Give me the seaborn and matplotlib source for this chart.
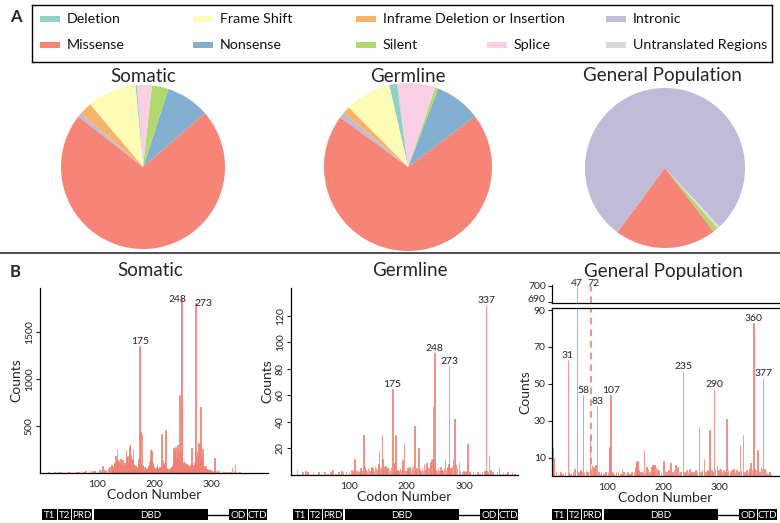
import matplotlib.pyplot as plt
import pandas as pd
import seaborn as sns
from matplotlib.lines import Line2D
from matplotlib.patches import Rectangle

W, H = 780, 523

# mutation categories (legend order) and their Set3 colour index
MUTATION_TYPES = [
    "Deletion", "Frame Shift", "Inframe Deletion or Insertion", "Intronic",
    "Missense", "Nonsense", "Silent", "Splice", "Untranslated Regions",
]
SET3_INDEX = [0, 1, 5, 2, 3, 4, 6, 7, 8]

# pie slices, listed in drawing order (counter-clockwise from the start angle)
PIE_ORDER = [
    "Nonsense", "Silent", "Splice", "Untranslated Regions", "Deletion",
    "Frame Shift", "Inframe Deletion or Insertion", "Intronic", "Missense",
]
SOMATIC_PCT = [8.6, 3.3, 2.9, 0.0, 0.3, 9.7, 2.5, 0.8, 72.0]
GERMLINE_PCT = [8.9, 0.6, 7.1, 0.3, 1.5, 8.9, 1.4, 1.1, 70.6]
GENPOP_PCT = [0.0, 1.1, 0.2, 0.3, 0.0, 0.0, 0.0, 78.0, 20.5]

# codon counts, somatic
SOMATIC_CODONS = [
    10, 15, 20, 25, 28, 32, 36, 40, 44, 48, 52, 56, 60, 64, 68, 72, 76, 80, 84, 88,
    92, 96, 100, 104, 107, 110, 113, 116, 120, 122, 125, 126, 127, 128, 130, 131, 132, 134, 135, 136,
    137, 138, 139, 141, 143, 144, 145, 146, 147, 149, 151, 152, 154, 155, 156, 157, 158, 159, 160, 161,
    162, 163, 164, 165, 167, 168, 170, 171, 172, 173, 174, 175, 176, 177, 178, 179, 180, 181, 183, 184,
    185, 187, 188, 190, 191, 192, 193, 194, 195, 196, 197, 198, 199, 200, 202, 203, 204, 205, 207, 209,
    210, 211, 213, 214, 215, 216, 217, 218, 219, 220, 221, 223, 224, 226, 227, 229, 230, 232, 234, 235,
    236, 237, 238, 239, 240, 241, 242, 243, 244, 245, 246, 247, 248, 249, 250, 251, 252, 253, 254, 255,
    256, 257, 258, 259, 260, 261, 262, 263, 264, 265, 266, 267, 268, 270, 271, 272, 273, 274, 275, 276,
    277, 278, 279, 280, 281, 282, 283, 284, 285, 286, 287, 288, 289, 290, 291, 293, 295, 296, 298, 300,
    302, 304, 306, 308, 310, 313, 316, 319, 322, 325, 328, 331, 334, 337, 340, 342, 344, 347, 350, 355,
    360, 365, 370, 375, 380, 385,
    133, 140, 142, 148, 150, 153, 166, 169, 182, 186, 189, 201, 206, 208, 212, 222, 225, 228, 231, 233,
    269, 292, 294, 297, 299,
]
SOMATIC_COUNTS = [
    4, 6, 5, 8, 6, 10, 7, 9, 8, 12, 10, 14, 11, 12, 15, 18, 14, 16, 12, 20,
    18, 22, 25, 30, 28, 70, 35, 30, 45, 60, 80, 90, 60, 55, 100, 110, 180, 120, 260, 140,
    90, 130, 110, 150, 90, 100, 140, 80, 60, 90, 244, 160, 180, 110, 200, 290, 314, 190, 120, 150,
    140, 260, 90, 100, 80, 70, 60, 50, 80, 150, 120, 1350, 440, 100, 60, 415, 70, 90, 60, 40,
    30, 40, 30, 70, 40, 120, 250, 150, 260, 230, 110, 100, 60, 50, 50, 40, 60, 100, 40, 40,
    60, 50, 420, 90, 70, 140, 90, 110, 70, 457, 40, 40, 30, 40, 30, 50, 60, 80, 270, 150,
    240, 200, 280, 160, 150, 300, 250, 140, 200, 830, 220, 150, 1857, 725, 120, 100, 90, 60, 120, 100,
    60, 80, 110, 90, 60, 50, 70, 100, 60, 80, 270, 110, 60, 120, 90, 200, 1815, 150, 220, 180,
    110, 320, 130, 300, 220, 700, 160, 100, 260, 200, 70, 60, 50, 70, 40, 30, 40, 30, 40, 30,
    25, 20, 155, 20, 15, 18, 12, 10, 15, 12, 10, 12, 10, 60, 20, 100, 15, 8, 6, 5,
    5, 4, 4, 3, 3, 3,
    70, 80, 60, 110, 70, 120, 60, 50, 40, 30, 50, 40, 50, 30, 70, 50, 40, 40, 60, 110,
    90, 40, 30, 25, 30,
]

# codon counts, germline
GERMLINE_CODONS = [
    5, 10, 14, 20, 25, 28, 33, 38, 43, 47, 52, 58, 63, 68, 72, 77, 82, 87, 90, 95,
    100, 104, 108, 110, 112, 115, 118, 120, 122, 125, 127, 129, 131, 133, 135, 137, 139, 141, 143, 145,
    147, 149, 151, 152, 154, 156, 157, 158, 159, 161, 163, 165, 167, 169, 171, 173, 175, 176, 178, 179,
    180, 182, 184, 186, 188, 190, 192, 193, 195, 197, 199, 201, 203, 205, 207, 209, 211, 213, 215, 217,
    220, 222, 224, 226, 228, 230, 232, 234, 236, 238, 240, 241, 242, 244, 245, 246, 248, 249, 250, 252,
    254, 256, 258, 260, 262, 264, 266, 268, 270, 272, 273, 275, 276, 278, 280, 282, 283, 285, 287, 290,
    292, 295, 298, 300, 303, 305, 308, 311, 314, 318, 322, 326, 330, 334, 336, 337, 338, 340, 342, 345,
    348, 352, 356, 359, 362, 366, 370, 374, 378, 382, 386, 390,
]
GERMLINE_COUNTS = [
    1, 4, 1, 2, 3, 2, 1, 2, 1, 2, 1, 2, 1, 2, 4, 1, 2, 3, 2, 3,
    2, 4, 3, 12, 4, 3, 2, 5, 3, 30, 6, 4, 3, 5, 4, 3, 6, 5, 3, 7,
    5, 4, 8, 19, 5, 6, 30, 12, 4, 6, 7, 4, 5, 3, 4, 6, 65, 8, 5, 9,
    30, 3, 4, 3, 5, 4, 6, 11, 24, 4, 3, 5, 4, 6, 3, 5, 7, 37, 4, 5,
    20, 4, 3, 5, 3, 8, 4, 9, 5, 6, 7, 10, 12, 12, 52, 8, 92, 10, 4, 3,
    5, 3, 6, 4, 3, 5, 11, 4, 6, 8, 82, 5, 4, 7, 12, 42, 6, 8, 5, 10,
    3, 2, 3, 2, 3, 23, 2, 1, 2, 1, 2, 1, 2, 3, 3, 128, 3, 2, 15, 4,
    2, 1, 2, 6, 1, 2, 1, 2, 1, 2, 1, 1,
]

# codon counts, general population (codon 72 drawn as a dashed line, off scale)
GENPOP_CODONS = [
    2, 5, 6, 10, 14, 18, 22, 26, 31, 33, 36, 40, 43, 47, 50, 53, 55, 58, 60, 63,
    66, 70, 74, 76, 78, 80, 83, 85, 88, 90, 94, 98, 102, 105, 107, 110, 113, 116, 120, 124,
    127, 130, 134, 137, 140, 144, 148, 151, 152, 153, 154, 156, 158, 161, 164, 166, 168, 170, 173, 176,
    179, 181, 183, 185, 187, 189, 192, 196, 200, 203, 206, 209, 213, 216, 219, 222, 225, 228, 231, 235,
    238, 241, 244, 247, 250, 254, 257, 260, 263, 266, 269, 272, 275, 278, 280, 282, 285, 287, 290, 292,
    295, 298, 301, 304, 307, 310, 312, 315, 318, 321, 324, 327, 330, 333, 336, 338, 341, 344, 347, 350,
    353, 355, 357, 360, 362, 364, 367, 370, 373, 375, 377, 379, 382, 385, 388, 391,
]
GENPOP_COUNTS = [
    2, 16, 10, 2, 1, 2, 1, 2, 63, 2, 1, 2, 4, 700, 2, 3, 2, 44, 2, 3,
    2, 21, 6, 5, 4, 6, 38, 2, 1, 2, 1, 2, 2, 16, 44, 2, 1, 2, 2, 1,
    4, 2, 1, 2, 1, 2, 2, 5, 8, 7, 8, 3, 2, 2, 2, 14, 2, 5, 4, 2,
    5, 6, 6, 6, 5, 4, 3, 2, 8, 2, 2, 3, 7, 2, 3, 6, 5, 2, 2, 57,
    2, 3, 2, 4, 2, 2, 3, 2, 27, 2, 3, 9, 2, 3, 2, 25, 3, 2, 47, 4,
    6, 3, 4, 2, 3, 2, 31, 3, 2, 3, 4, 2, 3, 2, 17, 3, 22, 2, 3, 2,
    4, 7, 3, 83, 4, 3, 14, 2, 5, 4, 53, 4, 2, 1, 2, 1,
]
GENPOP_DASHED_CODON = 72
GENPOP_DASHED_TOP = 700

SOMATIC_LABELS = [175, 248, 273]
GERMLINE_LABELS = [175, 248, 273, 337]
GENPOP_LABELS = [31, 58, 83, 107, 235, 290, 360, 377]
GENPOP_TOP_LABELS = [47]

# TP53 domain track (codon ranges)
DOMAIN_NAMES = ["T1", "T2", "PRD", "DBD", "OD", "CTD"]
DOMAIN_START = [3, 32, 56, 94, 332, 365]
DOMAIN_END = [30, 54, 91, 295, 363, 399]

BAR_COLOR = "#ef7f72"


def px_rect(left, top, right, bottom):
    return [left / W, 1 - bottom / H, (right - left) / W, (bottom - top) / H]


def draw_pie(fig, ax_box, values, start, colors):
    ax = fig.add_axes(px_rect(*ax_box))
    ax.pie(values, colors=colors, startangle=start, counterclock=True,
           wedgeprops={"linewidth": 0})
    ax.set_xlim(-1.0, 1.0)
    ax.set_ylim(-1.0, 1.0)


def draw_counts(ax, codons, counts, xlim, ylim):
    df = pd.DataFrame({"codon": codons, "count": counts})
    sns.histplot(data=df, x="codon", weights="count", binwidth=1, binrange=(0.5, 409.5),
                 color=BAR_COLOR, alpha=0.85, edgecolor=BAR_COLOR, linewidth=0.55, ax=ax)
    ax.set_xlim(*xlim)
    ax.set_ylim(*ylim)
    ax.set_xlabel("")
    ax.set_ylabel("")
    sns.despine(ax=ax)
    ax.tick_params(axis="y", length=3, width=0.8, pad=1.5, labelsize=7.5)
    ax.tick_params(axis="x", length=0, pad=5, labelsize=7.5)
    for side in ("left", "bottom"):
        ax.spines[side].set_color("black")
        ax.spines[side].set_linewidth(0.9)


def label_peaks(ax, codons, counts, label_codons, offsets=None):
    lookup = dict(zip(codons, counts))
    for i, c in enumerate(label_codons):
        dx, dy = (0, 0) if offsets is None else offsets[i]
        ax.annotate(str(c), (c, lookup[c]), xytext=(dx, dy), textcoords="offset pixels",
                    ha="center", va="bottom", fontsize=7.5, color="#222222")


def draw_domains(fig, left, right):
    ax = fig.add_axes(px_rect(left, 509, right, 520))
    ax.set_xlim(0, 400)
    ax.set_ylim(0, 1)
    ax.axis("off")
    ax.plot([DOMAIN_END[3], DOMAIN_START[4]], [0.5, 0.5], color="black", lw=1)
    for name, s, e in zip(DOMAIN_NAMES, DOMAIN_START, DOMAIN_END):
        ax.add_patch(Rectangle((s, 0), e - s, 1, facecolor="black", edgecolor="none"))
        ax.text((s + e) / 2, 0.45, name, color="white", ha="center", va="center", fontsize=7)


sns.set_theme(style="ticks")
plt.rcParams["font.family"] = ["Lato", "DejaVu Sans"]

palette = sns.color_palette("Set3", 12, desat=0.92)
type_colors = {t: palette[i] for t, i in zip(MUTATION_TYPES, SET3_INDEX)}
pie_colors = [type_colors[t] for t in PIE_ORDER]

fig = plt.figure(figsize=(W / 100, H / 100), dpi=100)

# ---- panel A legend box
lax = fig.add_axes(px_rect(32, 5, 772, 62))
lax.set_xlim(32, 772)
lax.set_ylim(62, 5)
lax.set_xticks([])
lax.set_yticks([])
for sp in lax.spines.values():
    sp.set_color("black")
    sp.set_linewidth(1.0)
legend_pos = {
    "Deletion": (40, 19), "Frame Shift": (193, 19),
    "Inframe Deletion or Insertion": (356, 19), "Intronic": (606, 19),
    "Missense": (40, 45), "Nonsense": (193, 45), "Silent": (356, 45),
    "Splice": (487, 45), "Untranslated Regions": (606, 45),
}
for t in MUTATION_TYPES:
    x, y = legend_pos[t]
    lax.add_patch(Rectangle((x, y - 3), 20, 6, facecolor=type_colors[t], edgecolor="none"))
    lax.text(x + 27, y, t, va="center", ha="left", fontsize=10.3, color="#111111")

fig.text(10 / W, 1 - 17 / H, "A", fontsize=12, fontweight="bold", ha="left", va="center")

# ---- pies
draw_pie(fig, (61, 85, 225, 249), SOMATIC_PCT, 41, pie_colors)
draw_pie(fig, (324, 83, 492, 251), GERMLINE_PCT, 37, pie_colors)
draw_pie(fig, (585, 88, 745, 248), GENPOP_PCT, 307.3, pie_colors)
for x, title in [(143, "Somatic"), (408, "Germline"), (662, "General Population")]:
    fig.text(x / W, 1 - 76 / H, title, fontsize=13.5, ha="center", va="center")

# separator between panels
fig.add_artist(Line2D([0, 1], [1 - 253 / H] * 2, color="#555555", lw=1.5))
fig.text(10 / W, 1 - 272 / H, "B", fontsize=12, fontweight="bold", ha="left", va="center")

# ---- panel B: somatic
ax_s = fig.add_axes(px_rect(40, 288, 268, 473))
draw_counts(ax_s, SOMATIC_CODONS, SOMATIC_COUNTS, (0, 400), (0, 1970))
ax_s.set_yticks([500, 1000, 1500])
label_peaks(ax_s, SOMATIC_CODONS, SOMATIC_COUNTS, SOMATIC_LABELS, [(0, 0), (-4, -5), (8, -5)])

# germline
ax_g = fig.add_axes(px_rect(291, 288, 518, 475))
draw_counts(ax_g, GERMLINE_CODONS, GERMLINE_COUNTS, (0, 392), (0, 141))
ax_g.set_yticks([20, 40, 60, 80, 100, 120])
label_peaks(ax_g, GERMLINE_CODONS, GERMLINE_COUNTS, GERMLINE_LABELS)

for ax in (ax_s, ax_g):
    for lab in ax.get_yticklabels():
        lab.set_rotation(90)
        lab.set_va("center")

# general population, broken y axis
ax_p = fig.add_axes(px_rect(552, 307.7, 779, 476))
draw_counts(ax_p, GENPOP_CODONS, GENPOP_COUNTS, (3, 405), (0, 91.3))
ax_p.set_yticks([10, 30, 50, 70, 90])
ax_p.spines["top"].set_visible(True)
ax_p.spines["top"].set_color("black")
ax_p.spines["top"].set_linewidth(0.9)
ax_p.vlines(GENPOP_DASHED_CODON, 0, 91.3, colors=BAR_COLOR, linestyles=(0, (4, 3)), lw=1.2)
label_peaks(ax_p, GENPOP_CODONS, GENPOP_COUNTS, GENPOP_LABELS)

ax_t = fig.add_axes(px_rect(552, 285, 779, 303.3))
draw_counts(ax_t, GENPOP_CODONS, GENPOP_COUNTS, (3, 405), (689, 700.6))
ax_t.set_yticks([690, 700])
ax_t.set_xticks([])
ax_t.get_yticklabels()[0].set_va("baseline")
ax_t.vlines(GENPOP_DASHED_CODON, 689, GENPOP_DASHED_TOP, colors=BAR_COLOR,
            linestyles=(0, (4, 3)), lw=1.2)
label_peaks(ax_t, GENPOP_CODONS, GENPOP_COUNTS, GENPOP_TOP_LABELS, [(0, -2)])
ax_t.annotate(str(GENPOP_DASHED_CODON), (GENPOP_DASHED_CODON, GENPOP_DASHED_TOP),
              xytext=(2, -2), textcoords="offset pixels", ha="center", va="bottom",
              fontsize=7.5, color="#222222")

for ax in (ax_s, ax_g, ax_p):
    ax.set_xticks([100, 200, 300])
    ax.set_xlabel("Codon Number", fontsize=10, labelpad=0)
    ax.set_ylabel("Counts", fontsize=10, labelpad=2)

for x, title in [(150, "Somatic"), (410, "Germline"), (663, "General Population")]:
    fig.text(x / W, 1 - 271 / H, title, fontsize=13.5, ha="center", va="center")

draw_domains(fig, 40, 268)
draw_domains(fig, 291, 519)
draw_domains(fig, 550, 778)

fig.savefig("out.png", dpi=100)
